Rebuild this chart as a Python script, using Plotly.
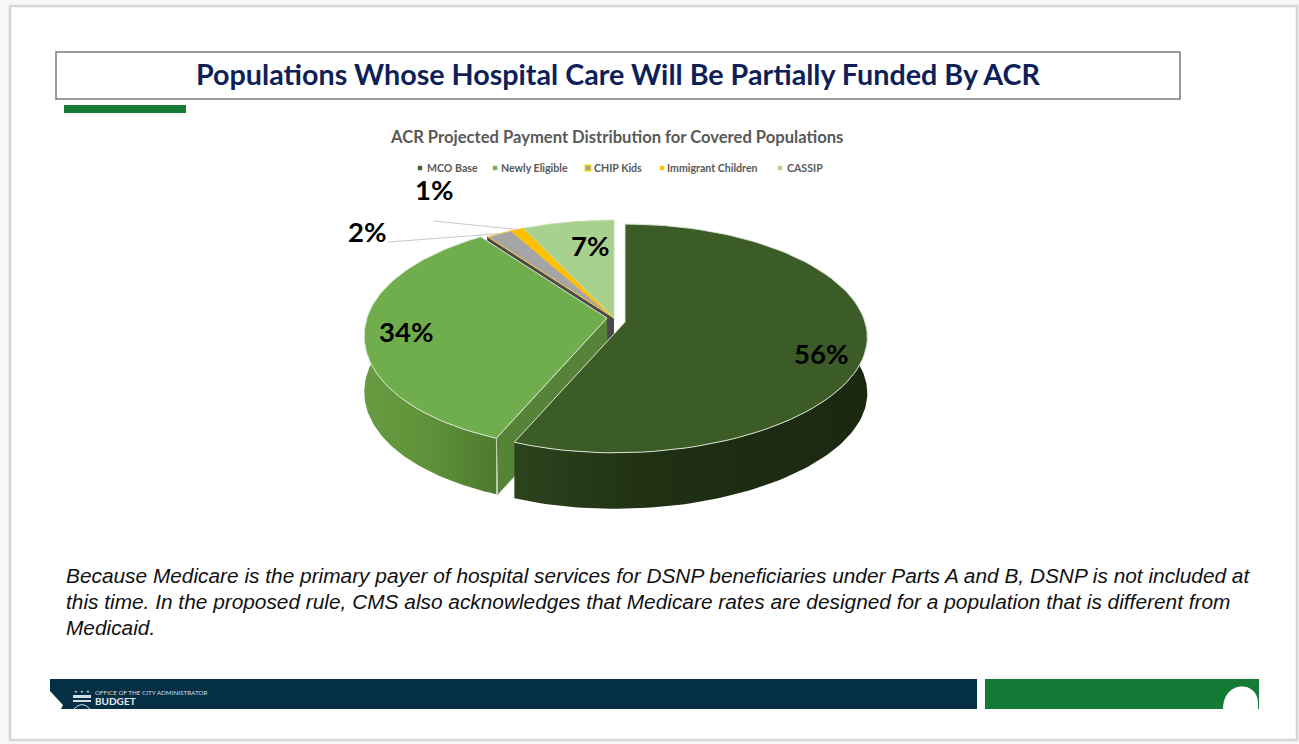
import numpy as np
import plotly.graph_objects as go

# Chart content
slice_names = ["MCO Base", "Newly Eligible", "CHIP Kids", "Immigrant Children", "CASSIP"]
slice_values = [56, 34, 2, 1, 7]
slice_colors = ["#3B5C27", "#70AD4C", "#A5A5A5", "#FFC000", "#A9D18E"]
slice_edges = ["#DCE3D6", "#DCE6D4", "#FFD23C", "#FFC000", "#C5DDB4"]
chart_title = "ACR Projected Payment Distribution for Covered Populations"
page_title = "Populations Whose Hospital Care Will Be Partially Funded By ACR"
note_lines = [
    "Because Medicare is the primary payer of hospital services for DSNP beneficiaries under Parts A and B, DSNP is not included at",
    "this time. In the proposed rule, CMS also acknowledges that Medicare rates are designed for a population that is different from",
    "Medicaid.",
]

# Projection of the tilted pie onto the page
RADIUS_X, RADIUS_Y, TILT, DEPTH, SKEW = 240, 112, 0.144, 56, 10
APEXES = [(625, 322), (607, 318), (614, 318), (614, 318), (614, 318)]

NAVY, GREEN, TEAL = "#0F1F57", "#157A36", "#052F44"
W, H = 1299, 744


def rim(apex, start, stop, n=90):
    """Outer edge of the disc between two clockwise angles from 12 o'clock."""
    t = np.radians(np.linspace(start, stop, n))
    X, Y = np.sin(t), -np.cos(t)
    d = 1 - TILT * Y
    return (apex[0] + RADIUS_X * X / d - SKEW * np.clip(Y, 0, None) ** 2,
            apex[1] + RADIUS_Y * Y / d)


fig = go.Figure()


def poly(xs, ys, **kw):
    fig.add_trace(go.Scatter(x=list(xs), y=list(ys), mode="lines", fill="toself",
                             hoverinfo="skip", showlegend=False, **kw))


cum = np.concatenate([[0], np.cumsum(slice_values)]) * 3.6
spans = list(zip(cum[:-1], cum[1:]))
rims = [rim(a, s, e) for a, (s, e) in zip(APEXES, spans)]

# Cut wall of the grey slice, behind everything else
gx, gy = rims[2][0][0], rims[2][1][0]
ax, ay = APEXES[2]
poly([ax, gx, gx, ax], [ay, gy, gy + DEPTH, ay + DEPTH],
     fillcolor="#4A4A4A", line=dict(color="#4A4A4A", width=1))

# Cut wall of the Newly Eligible slice
cx, cy = rims[1][0][0], rims[1][1][0]
ax, ay = APEXES[1]
poly([ax, cx, cx + 1, ax + 1], [ay, cy, cy + DEPTH + 1, ay + DEPTH + 1],
     fillcolor="#568337", line=dict(color="#C8D5BC", width=1))

# Rim wall of the Newly Eligible slice
rx, ry = rim(APEXES[1], spans[1][0], 285)
poly(np.r_[rx, rx[::-1]], np.r_[ry, ry[::-1] + DEPTH],
     fillgradient=dict(type="horizontal", start=rx.min(), stop=rx.max(),
                       colorscale=[[0, "#689C42"], [0.5, "#5E9139"], [1, "#4E7A30"]]),
     line=dict(color="rgba(0,0,0,0)", width=0))
poly([cx, cx + 1], [cy, cy + DEPTH + 1], line=dict(color="#C8D5BC", width=1))

# Top faces of the smaller slices, then the leaders of the outside labels
for i in [1, 2, 3, 4]:
    rx, ry = rims[i]
    ax, ay = APEXES[i]
    poly(np.r_[ax, rx, ax], np.r_[ay, ry, ay], fillcolor=slice_colors[i],
         line=dict(color=slice_edges[i], width=1))

label_offsets = {2: (388, 242), 3: (434, 221)}
for i, start_pt in label_offsets.items():
    rx, ry = rims[i]
    fig.add_trace(go.Scatter(x=[start_pt[0], rx[45]], y=[start_pt[1], ry[45]], mode="lines",
                             line=dict(color="#C9C9C9", width=1),
                             hoverinfo="skip", showlegend=False))

# Largest slice sits in front
rx, ry = rim(APEXES[0], 70, spans[0][1])
poly(np.r_[rx, rx[::-1]], np.r_[ry, ry[::-1] + DEPTH],
     fillgradient=dict(type="horizontal", start=rx.min(), stop=rx.max(),
                       colorscale=[[0, "#2C431D"], [0.4, "#1F3013"], [1, "#1A2810"]]),
     line=dict(color="rgba(0,0,0,0)", width=0))
rx, ry = rims[0]
ax, ay = APEXES[0]
poly(np.r_[ax, rx, ax], np.r_[ay, ry, ay], fillcolor=slice_colors[0],
     line=dict(color=slice_edges[0], width=1))

# Legend row
legend_x = [420, 495, 588, 662, 780]
text_x = [427, 501, 594, 667, 787]
for name, color, mx, tx in zip(slice_names, slice_colors, legend_x, text_x):
    is_chip = name == "CHIP Kids"
    fig.add_trace(go.Scatter(x=[mx], y=[168], mode="markers", hoverinfo="skip", showlegend=False,
                             marker=dict(symbol="square", size=6 if is_chip else 3.5, color=color,
                                         line=dict(color="#FFE000" if is_chip else color,
                                                   width=1.2 if is_chip else 1))))

annotations = []


def label(text, x, y, size, color="#000000", anchor="center", family="Lato", bold=True, italic=False):
    body = f"<b>{text}</b>" if bold else text
    if italic:
        body = f"<i>{body}</i>"
    annotations.append(dict(text=body, x=x, y=y, xref="x", yref="y", xanchor=anchor, yanchor="middle",
                            showarrow=False, borderpad=0, borderwidth=0,
                            font=dict(size=size, color=color, family=family)))


for name, tx in zip(slice_names, text_x):
    label(name, tx, 168, 10.6, "#595959", anchor="left")

label_pos = [(821, 353), (406, 331), (367, 231), (434, 189), (590, 245)]
for v, (x, y) in zip(slice_values, label_pos):
    label(f"{v}%", x, y, 27.5)

label(page_title, 618, 74, 28.7, NAVY)
label(chart_title, 616, 137, 16.6, "#595959")
for line, y in zip(note_lines, [575, 601, 627]):
    label(line, 66, y, 20.85, "#111111", anchor="left", family="Liberation Sans", bold=False, italic=True)

label("OFFICE OF THE CITY ADMINISTRATOR", 95, 692, 6.3, "#D5DEE3", anchor="left", bold=False)
label("BUDGET", 95, 701, 10, "#E6ECEF", anchor="left")
for sx in [76, 82, 88]:
    label("★", sx, 691, 4, "#D5DEE3", bold=False)

# Page furniture, all of it under the pie
shapes = [
    dict(type="rect", x0=10, y0=6, x1=1297, y1=740, line=dict(color="#D6D6D6", width=2.5), fillcolor="#FFFFFF"),
    dict(type="rect", x0=56, y0=52, x1=1180, y1=99, line=dict(color="#7A7A7A", width=1.5), fillcolor="#FFFFFF"),
    dict(type="rect", x0=64, y0=105, x1=186, y1=113, line=dict(width=0), fillcolor=GREEN),
    dict(type="rect", x0=50, y0=679, x1=977, y1=709, line=dict(width=0), fillcolor=TEAL),
    dict(type="path", path="M 50 691 L 63 705 L 61 709 L 50 709 Z", line=dict(width=0), fillcolor="#FFFFFF"),
    dict(type="rect", x0=985, y0=679, x1=1259, y1=709, line=dict(width=0), fillcolor=GREEN),
    dict(type="path", path="M 1223 709 C 1223 680 1258 680 1258 703 L 1258 709 Z", line=dict(width=0), fillcolor="#FFFFFF"),
    # crest next to the budget office wordmark
    dict(type="rect", x0=73, y0=695, x1=91, y1=698, line=dict(width=0), fillcolor="#D5DEE3"),
    dict(type="rect", x0=73, y0=700, x1=91, y1=702, line=dict(width=0), fillcolor="#D5DEE3"),
    dict(type="path", path="M 74 709 Q 82 700 90 709", line=dict(color="#D5DEE3", width=1)),
]
for s in shapes:
    s["layer"] = "below"

fig.update_layout(
    width=W, height=H, autosize=False, margin=dict(l=0, r=0, t=0, b=0),
    paper_bgcolor="#F7F7F7", plot_bgcolor="rgba(0,0,0,0)", showlegend=False,
    xaxis=dict(range=[0, W], visible=False, fixedrange=True),
    yaxis=dict(range=[H, 0], visible=False, fixedrange=True),
    shapes=shapes, annotations=annotations,
)
fig.write_html("out.html", config=dict(displayModeBar=False))
